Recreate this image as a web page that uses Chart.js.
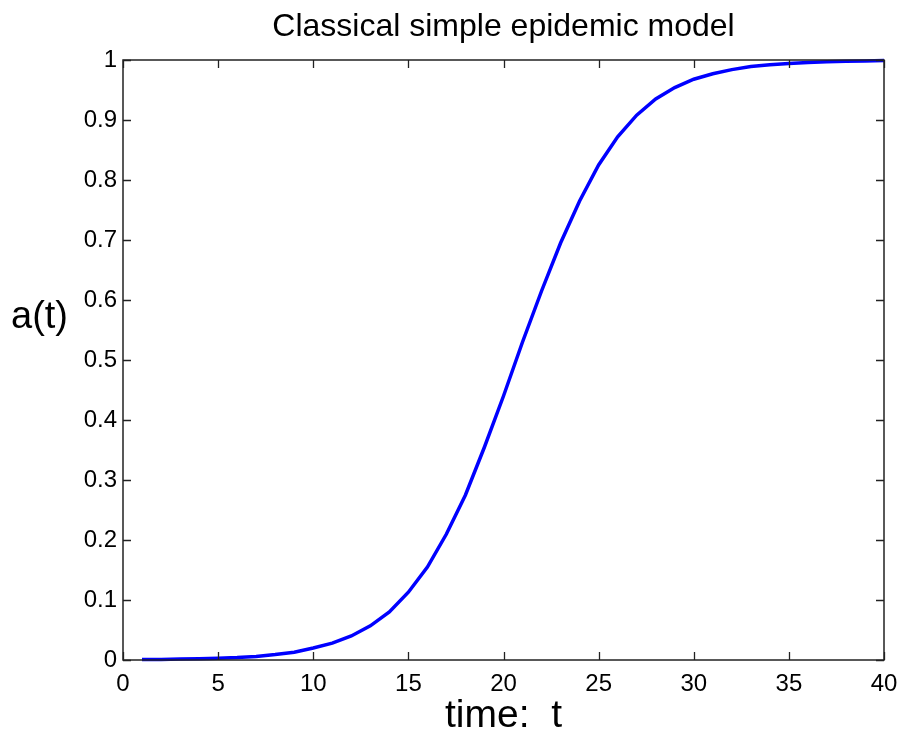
<!DOCTYPE html>
<html>
<head>
<meta charset="utf-8">
<script src="https://cdn.jsdelivr.net/npm/chart.js@4.4.1/dist/chart.umd.min.js"></script>
<style>
  html, body { margin: 0; padding: 0; background: #ffffff; }
  #wrap { width: 900px; height: 730px; }
</style>
</head>
<body>
<div id="wrap"><canvas id="c" width="900" height="730"></canvas></div>
<script>
const chartTitle = "Classical simple epidemic model";
const xAxisLabel = "time:  t";
const yAxisLabel = "a(t)";

const tValues = [1, 2, 3, 4, 5, 6, 7, 8, 9, 10,
                 11, 12, 13, 14, 15, 16, 17, 18, 19, 20,
                 21, 22, 23, 24, 25, 26, 27, 28, 29, 30,
                 31, 32, 33, 34, 35, 36, 37, 38, 39, 40];
const aValues = [0.001, 0.001, 0.0015, 0.002, 0.003, 0.004, 0.006, 0.009, 0.013, 0.020,
                 0.028, 0.040, 0.057, 0.080, 0.113, 0.155, 0.210, 0.275, 0.355, 0.440,
                 0.530, 0.615, 0.695, 0.765, 0.825, 0.872, 0.908, 0.935, 0.954, 0.968,
                 0.977, 0.984, 0.989, 0.992, 0.994, 0.996, 0.997, 0.998, 0.9985, 0.999];

const xTickStep = 5;
const yTickStep = 0.1;

const points = tValues.map((t, i) => ({ x: t, y: aValues[i] }));

const FONT = "'Liberation Sans', Arial, Helvetica, sans-serif";

const framePlugin = {
  id: 'frame',
  afterDatasetsDraw(chart) {
    const ctx = chart.ctx;
    const a = chart.chartArea;
    const xs = chart.scales.x, ys = chart.scales.y;
    const tl = 8;
    ctx.save();
    ctx.strokeStyle = '#222222';
    ctx.lineWidth = 1.3;
    ctx.beginPath();
    xs.ticks.forEach(tk => {
      const px = Math.round(xs.getPixelForValue(tk.value)) + 0.5;
      ctx.moveTo(px, a.bottom); ctx.lineTo(px, a.bottom - tl);
      ctx.moveTo(px, a.top); ctx.lineTo(px, a.top + tl);
    });
    ys.ticks.forEach(tk => {
      const py = Math.round(ys.getPixelForValue(tk.value)) + 0.5;
      ctx.moveTo(a.left, py); ctx.lineTo(a.left + tl, py);
      ctx.moveTo(a.right, py); ctx.lineTo(a.right - tl, py);
    });
    ctx.stroke();
    ctx.lineWidth = 1.5;
    ctx.strokeRect(a.left, a.top, a.right - a.left, a.bottom - a.top);
    ctx.restore();
  },
  afterDraw(chart) {
    const ctx = chart.ctx;
    const a = chart.chartArea;
    ctx.save();
    ctx.fillStyle = '#000000';
    ctx.textAlign = 'center';
    ctx.textBaseline = 'alphabetic';
    ctx.font = '32px ' + FONT;
    ctx.fillText(chartTitle, (a.left + a.right) / 2, 36);
    ctx.font = '39px ' + FONT;
    ctx.fillText(xAxisLabel, (a.left + a.right) / 2, 727);
    ctx.textAlign = 'left';
    ctx.font = '38px ' + FONT;
    ctx.fillText(yAxisLabel, 11, 328);
    ctx.restore();
  }
};

new Chart(document.getElementById('c'), {
  type: 'line',
  data: {
    datasets: [{
      data: points,
      borderColor: '#0000ff',
      borderWidth: 3.5,
      pointRadius: 0,
      tension: 0,
      fill: false,
      clip: false
    }]
  },
  options: {
    responsive: false,
    animation: false,
    layout: { padding: { left: 0, right: 16, top: 60, bottom: 0 } },
    plugins: {
      legend: { display: false },
      title: { display: false },
      tooltip: { enabled: false }
    },
    scales: {
      x: {
        type: 'linear',
        min: 0, max: 40,
        grid: { display: false, drawTicks: false, tickLength: 0 },
        border: { display: false },
        ticks: { stepSize: xTickStep, color: '#000', padding: 10, font: { family: FONT, size: 24 },
                 callback: v => String(v) },
        afterFit(scale) { scale.height = 70; scale.paddingRight = 0; scale.paddingLeft = 0; }
      },
      y: {
        type: 'linear',
        min: 0, max: 1,
        grid: { display: false, drawTicks: false, tickLength: 0 },
        border: { display: false },
        ticks: { stepSize: yTickStep, color: '#000', padding: 6, font: { family: FONT, size: 24 },
                 callback: v => String(Math.round(v * 10) / 10) },
        afterFit(scale) { scale.width = 123; scale.paddingTop = 0; scale.paddingBottom = 0; }
      }
    }
  },
  plugins: [framePlugin]
});
</script>
</body>
</html>
